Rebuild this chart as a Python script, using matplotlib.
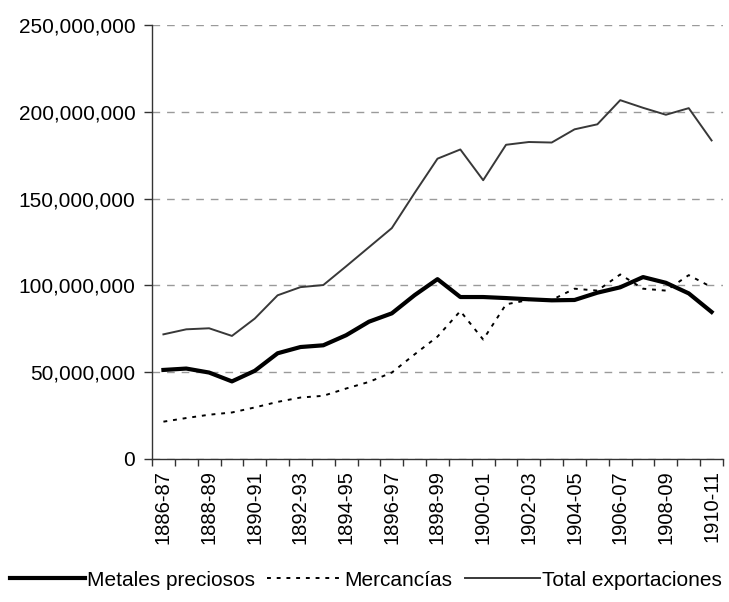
import matplotlib
matplotlib.use("Agg")
import matplotlib.pyplot as plt
from matplotlib.ticker import FuncFormatter, MultipleLocator

plt.rcParams['font.family'] = ['Liberation Sans', 'DejaVu Sans']

# export values, millions of pesos
periods = ["1886-87", "1887-88", "1888-89", "1889-90", "1890-91", "1891-92",
           "1892-93", "1893-94", "1894-95", "1895-96", "1896-97", "1897-98",
           "1898-99", "1899-00", "1900-01", "1901-02", "1902-03", "1903-04",
           "1904-05", "1905-06", "1906-07", "1907-08", "1908-09", "1909-10",
           "1910-11"]
metales = [51.3, 52.1, 49.8, 44.7, 50.8, 60.9, 64.5, 65.5, 71.3, 79.1, 83.9, 94.4,
           103.6, 93.3, 93.3, 92.7, 92.0, 91.4, 91.6, 95.8, 98.9, 104.8, 101.5, 95.4, 84.7]
mercancias = [21.5, 23.6, 25.5, 26.8, 29.7, 32.9, 35.4, 36.4, 40.6, 44.4, 49.8, 60.3,
              70.5, 85.2, 68.8, 89.1, 91.6, 91.6, 98.1, 97.0, 106.3, 98.1, 97.0, 105.9, 99.0]
total = [71.8, 74.7, 75.3, 70.9, 80.9, 94.3, 99.0, 100.2, 111.0, 122.0, 133.0, 153.3,
         173.0, 178.3, 160.6, 181.0, 182.6, 182.3, 189.9, 192.8, 206.7, 202.3, 198.3, 202.1, 183.5]

fig = plt.figure(figsize=(7.29, 6.02), dpi=100)
ax = fig.add_axes([152 / 729, 1 - 459 / 602, (723 - 152) / 729, (459 - 25) / 602])

x = list(range(len(periods)))
ax.plot(x, metales, color='black', lw=3.0, label='Metales preciosos', zorder=3)
ax.plot(x, mercancias, color='black', lw=1.4, dashes=(2, 3), label='Mercancías', zorder=3)
ax.plot(x, total, color='#383838', lw=1.4, label='Total exportaciones', zorder=3)

ax.set_ylim(0, 250)
ax.set_xlim(-0.5, len(periods) - 0.5)
ax.yaxis.set_major_locator(MultipleLocator(50))
ax.yaxis.set_major_formatter(FuncFormatter(lambda v, p: f"{v * 1e6:,.0f}"))
ax.yaxis.grid(True, color='#9a9a9a', lw=1.0, dashes=(5.5, 5))
ax.set_axisbelow(True)

# ticks on category boundaries, labels on every other category
ax.set_xticks([i - 0.5 for i in range(len(periods) + 1)])
ax.set_xticklabels([])
ax.set_xticks(x[::2], minor=True)
ax.set_xticklabels(periods[::2], minor=True, rotation=90, va='top', ha='center')
ax.tick_params(axis='x', which='major', length=5, width=1, color='#333333')
ax.tick_params(axis='x', which='minor', length=0, pad=8, labelsize=14.5)
ax.tick_params(axis='y', length=6, width=1, color='#333333', pad=6, labelsize=15)

for side in ['top', 'right']:
    ax.spines[side].set_visible(False)
for side in ['left', 'bottom']:
    ax.spines[side].set_color('#333333')
    ax.spines[side].set_linewidth(1.0)

fig.legend(loc='center', bbox_to_anchor=(0.502, 1 - 580 / 602), ncol=3, frameon=False,
           fontsize=15, handlelength=3.6, handletextpad=0.1, columnspacing=0.6,
           borderpad=0, borderaxespad=0)

plt.savefig("out.png", dpi=100)
